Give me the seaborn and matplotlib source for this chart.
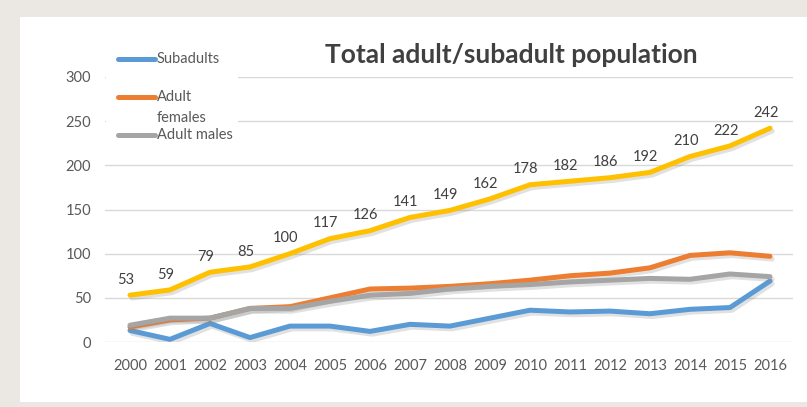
"""Total adult/subadult population, 2000-2016."""
import matplotlib
matplotlib.use("Agg")
import matplotlib.pyplot as plt
import matplotlib.patheffects as pe
from matplotlib.lines import Line2D
from matplotlib.patches import Rectangle
import pandas as pd
import seaborn as sns

years = list(range(2000, 2017))
total = [53, 59, 79, 85, 100, 117, 126, 141, 149, 162, 178, 182, 186, 192, 210, 222, 242]
subadults = [13, 3, 21, 5, 18, 18, 12, 20, 18, 27, 36, 34, 35, 32, 37, 39, 69]
adult_females = [17, 25, 27, 38, 40, 50, 60, 61, 63, 66, 70, 75, 78, 84, 98, 101, 97]
adult_males = [19, 27, 27, 38, 38, 46, 53, 55, 60, 63, 65, 68, 70, 72, 71, 77, 74]

series_names = ["Subadults", "Adult females", "Adult males"]
legend_labels = ["Subadults", "Adult\nfemales", "Adult males"]
palette = {"Subadults": "#5b9bd5", "Adult females": "#ed7d31", "Adult males": "#a5a5a5"}
total_color = "#ffc000"

sns.set_style("white")
plt.rcParams["font.family"] = ["Lato", "DejaVu Sans"]

W, H = 807, 407


def fx(px):
    return px / W


def fy(py):
    return 1 - py / H


df = pd.DataFrame({
    "year": years * 3,
    "count": subadults + adult_females + adult_males,
    "group": [n for n in series_names for _ in years],
})
df_total = pd.DataFrame({"year": years, "count": total})

fig = plt.figure(figsize=(8.07, 4.07), dpi=100)
fig.patch.set_facecolor("#ebe7e2")
fig.add_artist(Rectangle((fx(20), fy(402)), fx(787), 385 / H,
                         transform=fig.transFigure, facecolor="white",
                         edgecolor="none", zorder=-1))
ax = fig.add_axes([fx(105), fy(342), fx(688), 265 / H])
ax.set_facecolor("none")

shadow = [pe.SimpleLineShadow(offset=(1.5, -2), shadow_color="#888888", alpha=0.25),
          pe.Normal()]

sns.lineplot(data=df_total, x="year", y="count", color=total_color, lw=3.6,
             ax=ax, legend=False, path_effects=shadow,
             solid_capstyle="round", solid_joinstyle="round")
sns.lineplot(data=df, x="year", y="count", hue="group", hue_order=series_names,
             palette=palette, lw=3.6, ax=ax, legend=False, path_effects=shadow,
             solid_capstyle="round", solid_joinstyle="round")

for x, v in zip(years, total):
    ax.annotate(str(v), (x, v), xytext=(-3, 6), textcoords="offset points",
                ha="center", va="bottom", fontsize=10.5, color="#404040")

ax.set_xlim(1999.375, 2016.575)
ax.set_ylim(0, 300)
ax.set_xticks(years)
ax.set_yticks(range(0, 301, 50))
ax.tick_params(axis="both", length=0, labelsize=10.5, labelcolor="#595959")
ax.tick_params(axis="y", pad=10)
ax.tick_params(axis="x", pad=12)
ax.grid(axis="y", color="#d9d9d9", lw=1)
ax.set_axisbelow(True)
for s in ax.spines.values():
    s.set_visible(False)
ax.set_xlabel("")
ax.set_ylabel("")

fig.text(fx(511), fy(55), "Total adult/subadult population",
         ha="center", va="center", fontsize=19, fontweight="bold", color="#404040")

# legend, laid out by hand like the spreadsheet one
fig.add_artist(Rectangle((fx(106), fy(146)), fx(132), 98 / H,
                         transform=fig.transFigure, facecolor="white",
                         edgecolor="none", zorder=2))
legend_rows = [59, 97, 135]
for name, label, row in zip(series_names, legend_labels, legend_rows):
    fig.add_artist(Line2D([fx(118), fx(155)], [fy(row), fy(row)],
                          transform=fig.transFigure, color=palette[name],
                          lw=3.6, solid_capstyle="round", zorder=3))
    first, *rest = label.split("\n")
    fig.text(fx(157), fy(row), first, ha="left", va="center",
             fontsize=10.5, color="#595959", zorder=3)
    for i, line in enumerate(rest, 1):
        fig.text(fx(157), fy(row + 21 * i), line, ha="left", va="center",
                 fontsize=10.5, color="#595959", zorder=3)

fig.savefig("out.png", dpi=100, facecolor=fig.get_facecolor())
